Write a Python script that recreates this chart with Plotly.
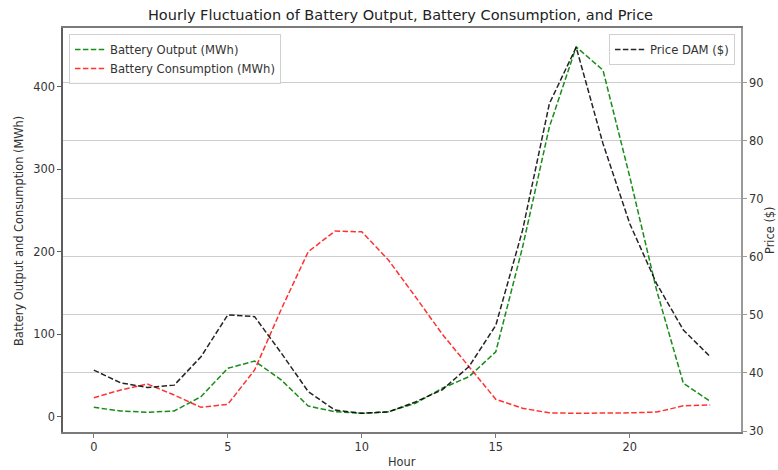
import plotly.graph_objects as go

# Hourly battery dispatch and day-ahead market price
hours = list(range(24))
battery_output = [11.7, 7.3, 5.7, 7.3, 24.6, 59, 67.8, 44.8, 13.3, 6.4, 4.4, 6.4,
                  16.6, 34.8, 48.8, 79.1, 206, 351.7, 448.6, 420.4, 291, 153.8, 40.8, 19.0]
battery_consumption = [23.4, 32.7, 40, 26.6, 11.7, 15.4, 57, 131, 200.3, 225.3, 224.5, 190,
                       145.8, 100.5, 61, 21.5, 10.5, 5.0, 4.5, 4.5, 5.0, 6.0, 13.5, 14.5]
price_dam = [40.5, 38.3, 37.5, 37.9, 42.8, 50.0, 49.7, 43.4, 36.8, 33.6, 33.05, 33.3,
             35.0, 37.1, 41.1, 48.2, 64.6, 86.4, 96.1, 79.5, 65.7, 55.4, 47.4, 42.8]
x_ticks = [0, 5, 10, 15, 20]
left_ticks = [0, 100, 200, 300, 400]
right_ticks = [30, 40, 50, 60, 70, 80, 90]

FONT = "DejaVu Sans"
DASH = "5.5px,2.4px"
SPINE = "#7a7a7a"

fig = go.Figure()
fig.add_trace(go.Scatter(
    x=hours, y=battery_output, mode="lines", name="Battery Output (MWh)",
    line=dict(color="green", width=1.5, dash=DASH), opacity=0.9,
    yaxis="y", legend="legend"))
fig.add_trace(go.Scatter(
    x=hours, y=battery_consumption, mode="lines", name="Battery Consumption (MWh)",
    line=dict(color="red", width=1.5, dash=DASH), opacity=0.8,
    yaxis="y", legend="legend"))
fig.add_trace(go.Scatter(
    x=hours, y=price_dam, mode="lines", name="Price DAM ($)",
    line=dict(color="black", width=1.5, dash=DASH), opacity=0.85,
    yaxis="y2", legend="legend2"))

W, H = 778, 470
L, R, T, B = 63, 37, 28, 38
pw, ph = W - L - R, H - T - B


def px_x(px):
    return (px - L) / pw


def px_y(py):
    return 1 - (py - T) / ph


tick_font = dict(family=FONT, size=11.4, color="#333333")
legend_common = dict(
    font=dict(family=FONT, size=11.6, color="#333333"),
    bgcolor="rgba(255,255,255,0.85)", bordercolor="#d0d0d0", borderwidth=1,
    yanchor="top", y=px_y(34), itemwidth=30, tracegroupgap=0)

fig.update_layout(
    width=W, height=H,
    margin=dict(l=L, r=R, t=T, b=B),
    paper_bgcolor="white", plot_bgcolor="white",
    font=dict(family=FONT, size=11.4, color="#333333"),
    title=dict(text="Hourly Fluctuation of Battery Output, Battery Consumption, and Price",
               xref="container", x=400.5 / W, xanchor="center",
               yref="container", y=1 - 15 / H, yanchor="middle",
               font=dict(family=FONT, size=14.5, color="#222222")),
    xaxis=dict(range=[-1.15, 24.15], tickvals=x_ticks, ticktext=[str(v) for v in x_ticks],
               showgrid=False, zeroline=False, showline=True, mirror=True,
               linecolor=SPINE, linewidth=1.5, ticks="outside", ticklen=4,
               tickcolor=SPINE, tickfont=tick_font),
    yaxis=dict(range=[-18.2, 471.5], tickvals=left_ticks, ticktext=[str(v) for v in left_ticks],
               showgrid=False, zeroline=False, showline=True, linecolor="#5e5e5e",
               linewidth=1.5, ticks="outside", ticklen=4, tickcolor="#5e5e5e",
               tickfont=tick_font),
    yaxis2=dict(range=[29.83, 99.42], tickvals=right_ticks, ticktext=[str(v) for v in right_ticks],
                overlaying="y", side="right", showgrid=True, gridcolor="#cdcdcd",
                gridwidth=1, zeroline=False, showline=True, linecolor="#9a9a9a",
                linewidth=1.5, ticks="outside", ticklen=4, tickcolor="#9a9a9a",
                tickfont=tick_font),
    legend=dict(x=px_x(69), xanchor="left", **legend_common),
    legend2=dict(x=px_x(735), xanchor="right", **legend_common),
    annotations=[
        dict(text="Battery Output and Consumption (MWh)", textangle=-90,
             xref="paper", yref="paper", x=px_x(19), y=px_y(231),
             xanchor="center", yanchor="middle", showarrow=False,
             font=dict(family=FONT, size=11.4, color="#333333")),
        dict(text="Price ($)", textangle=-90,
             xref="paper", yref="paper", x=px_x(770), y=px_y(230),
             xanchor="center", yanchor="middle", showarrow=False,
             font=dict(family=FONT, size=11.4, color="#333333")),
        dict(text="Hour", xref="paper", yref="paper", x=px_x(402), y=px_y(462),
             xanchor="center", yanchor="middle", showarrow=False,
             font=dict(family=FONT, size=11.4, color="#333333")),
    ],
)

fig.write_html("out.html")
